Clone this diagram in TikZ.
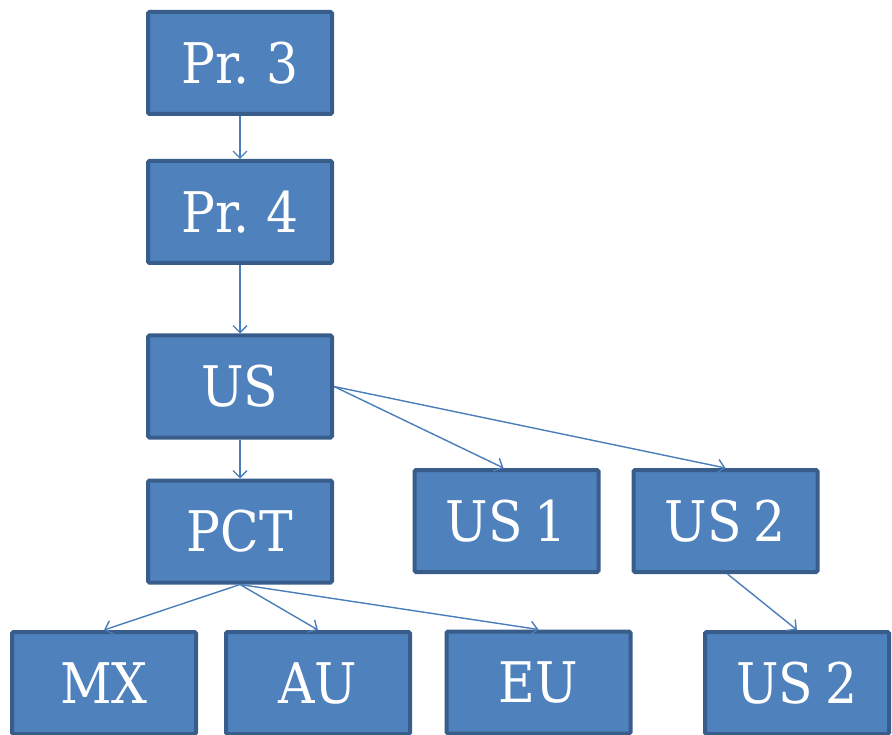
\documentclass[tikz,border=0pt]{standalone}
\usepackage{fontspec}
\setmainfont[WordSpace=0.75]{DejaVu Serif Condensed}
\usetikzlibrary{arrows.meta}
\definecolor{boxfill}{HTML}{4F81BD}
\definecolor{boxline}{HTML}{385D8A}
\definecolor{arrowcol}{HTML}{4A7EBB}
\tikzset{
  box/.style={draw=boxline, fill=boxfill, line width=4pt, rounded corners=1.5pt,
    minimum width=184pt, minimum height=102pt, inner sep=0pt,
    text=white, font=\fontsize{56}{60}\selectfont},
  conn/.style={draw=arrowcol, line width=1.4pt, -{Straight Barb[length=7pt,width=14pt]}}
}
\begin{document}
\begin{tikzpicture}[x=1pt,y=-1pt]
\useasboundingbox (0,0) rectangle (892,735);
\node[box] (pr3) at (240,63) {Pr. 3};
\node[box] (pr4) at (240,212) {Pr. 4};
\node[box] (us) at (240,386.5) {US};
\node[box] (pct) at (240,531.5) {PCT};
\node[box] (us1) at (506.5,521) {US 1};
\node[box] (us2) at (725.5,521) {US 2};
\node[box] (mx) at (104,683) {MX};
\node[box] (au) at (318,683) {AU};
\node[box] (eu) at (538.5,682.5) {EU};
\node[box] (us2b) at (797,683) {US 2};
\draw[conn] (pr3.south) -- (pr4.north);
\draw[conn] (pr4.south) -- (us.north);
\draw[conn] (us.south) -- (pct.north);
\draw[conn] (us.east) -- ([xshift=-3pt]us1.north);
\draw[conn] (us.east) -- (us2.north);
\draw[conn] (pct.south) -- (mx.north);
\draw[conn] (pct.south) -- (au.north);
\draw[conn] (pct.south) -- (eu.north);
\draw[conn] ([xshift=2pt]us2.south) -- (us2b.north);
\end{tikzpicture}
\end{document}
